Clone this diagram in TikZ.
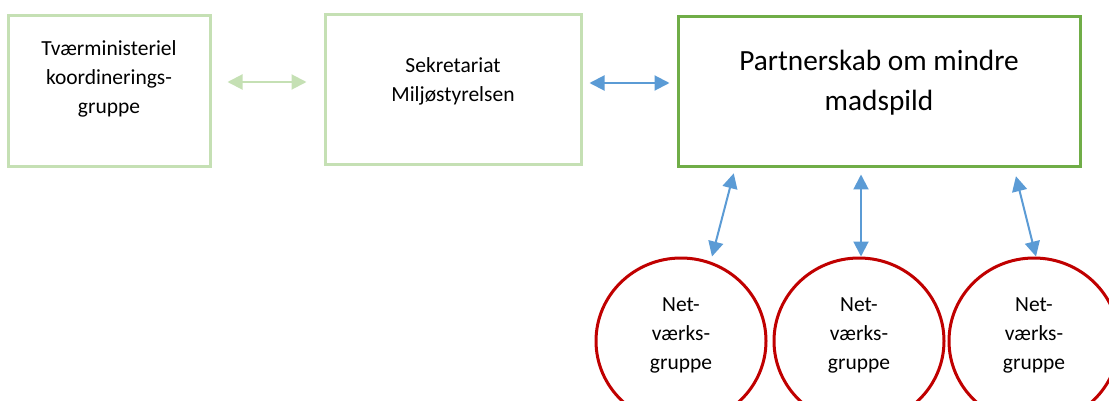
\documentclass[tikz,border=0pt]{standalone}
\usepackage{fontspec}
\setmainfont{Carlito}
\usetikzlibrary{arrows.meta,shapes.geometric}
\definecolor{lightgreen}{HTML}{C5E0B4}
\definecolor{darkgreen}{HTML}{70AD47}
\definecolor{arrowblue}{HTML}{5B9BD5}
\definecolor{darkred}{HTML}{C00000}
\tikzset{
  lbox/.style={draw=lightgreen, line width=3pt, rectangle, inner sep=0pt},
  pbox/.style={draw=darkgreen, line width=3pt, rectangle, inner sep=0pt},
  netgroup/.style={draw=darkred, line width=3pt, ellipse, inner sep=0pt,
    minimum width=170pt, minimum height=166pt},
  txt/.style={align=center, inner sep=0pt, font=\fontsize{21.5}{29}\selectfont},
  bigtxt/.style={align=center, inner sep=0pt, font=\fontsize{29.3}{40}\selectfont},
  garrow/.style={draw=lightgreen, line width=2pt,
    {Triangle[length=15pt,width=15pt]}-{Triangle[length=15pt,width=15pt]}},
  barrow/.style={draw=arrowblue, line width=2pt,
    {Triangle[length=15pt,width=15pt]}-{Triangle[length=15pt,width=15pt]}}
}
\begin{document}
\begin{tikzpicture}[x=1pt, y=-1pt]
  \useasboundingbox (0,0) rectangle (1109,401);
  \node[lbox, minimum width=202pt, minimum height=151pt] (tvaer) at (109,91.5) {};
  \node[lbox, minimum width=256pt, minimum height=150pt] (sekr) at (453,90) {};
  \node[pbox, minimum width=402pt, minimum height=150pt] (partner) at (879,92) {};
  \node[txt] (tvaertxt) at (109,79) {Tværministeriel\\koordinerings-\\gruppe};
  \node[txt] (sekrtxt) at (453,81) {Sekretariat\\Miljøstyrelsen};
  \node[bigtxt] (partnertxt) at (879,83) {Partnerskab om mindre\\madspild};
  \node[netgroup] (net1) at (681,341) {};
  \node[netgroup] (net2) at (859,341) {};
  \node[netgroup] (net3) at (1034,341) {};
  \node[txt] (net1txt) at (681,335) {Net-\\værks-\\gruppe};
  \node[txt] (net2txt) at (859,335) {Net-\\værks-\\gruppe};
  \node[txt] (net3txt) at (1034,335) {Net-\\værks-\\gruppe};
  \draw[garrow, shorten <=16pt, shorten >=17pt] (tvaer.east |- 0,82) -- (sekr.west |- 0,82);
  \draw[barrow, shorten <=7pt, shorten >=7pt] (sekr.east |- 0,83) -- (partner.west |- 0,83);
  \draw[barrow, shorten <=5pt] (partner.south -| 735,0) -- ([xshift=31pt]net1.north);
  \draw[barrow, shorten <=6pt] (partner.south -| 861,0) -- ([xshift=2pt]net2.north);
  \draw[barrow, shorten <=8pt] (partner.south -| 1014,0) -- ([xshift=2pt]net3.north);
\end{tikzpicture}
\end{document}
